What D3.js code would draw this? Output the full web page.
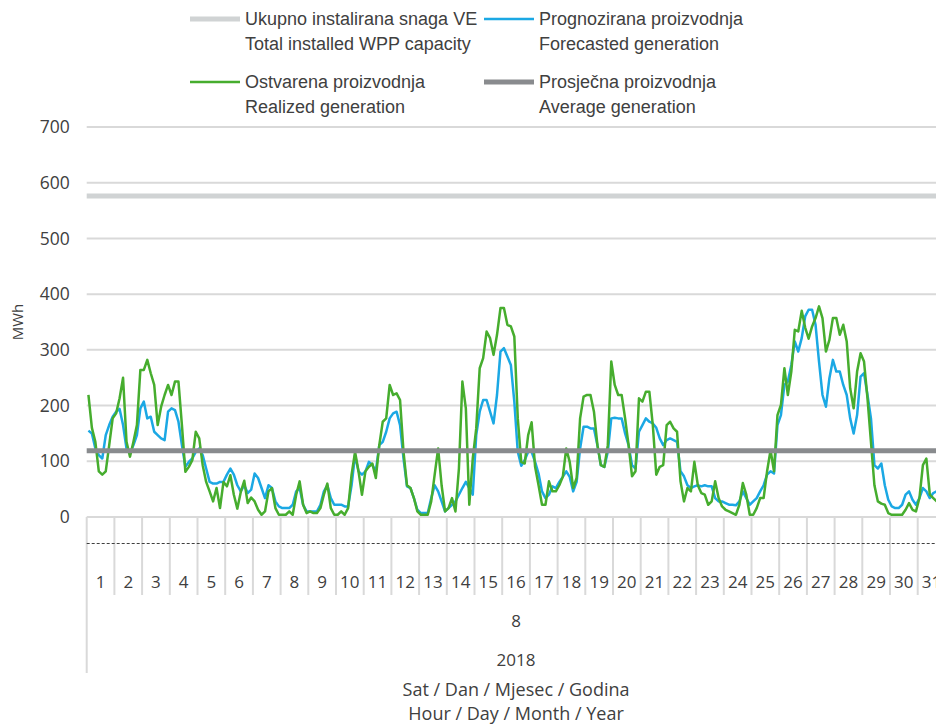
<html>
<head>
<meta charset="utf-8">
<title>VE proizvodnja - kolovoz 2018</title>
<style>
    body { margin: 0; background: #fff; }
    text { fill: #404040; font-family: "Open Sans", "Noto Sans", sans-serif; }
    .legend text { font-family: "Liberation Sans", sans-serif; font-size: 18px; }
    .grid line { stroke: #d9d9d9; stroke-width: 2; }
    .yaxis text { font-size: 17.5px; }
    .days text { font-size: 17px; }
</style>
</head>
<body>
<div id="chart"></div>
<script src="https://cdnjs.cloudflare.com/ajax/libs/d3/7.8.5/d3.min.js"></script>
<script>
    // one value every 3 hours (8 per day), August 2018, MWh
    var realized = [
        219, 160, 135, 82, 76, 82, 129, 177,
        186, 213, 250, 135, 108, 135, 165, 264,
        264, 282, 258, 237, 165, 198, 219, 237,
        219, 243, 243, 165, 81, 90, 102, 153,
        141, 93, 63, 46, 28, 52, 16, 63,
        55, 75, 40, 15, 45, 65, 25, 35,
        28, 13, 4, 10, 46, 52, 16, 4,
        4, 4, 10, 4, 40, 64, 22, 7,
        10, 7, 7, 16, 40, 60, 16, 4,
        4, 10, 4, 16, 76, 117, 82, 40,
        82, 90, 96, 70, 129, 171, 177, 237,
        219, 222, 210, 117, 57, 52, 34, 10,
        4, 4, 4, 28, 76, 123, 57, 10,
        16, 34, 10, 87, 243, 195, 22, 105,
        159, 267, 285, 333, 321, 291, 327, 375,
        375, 345, 342, 324, 177, 99, 96, 147,
        170, 90, 57, 22, 22, 64, 46, 46,
        57, 72, 123, 99, 52, 70, 177, 216,
        219, 219, 189, 129, 93, 90, 129, 279,
        237, 219, 219, 177, 129, 73, 82, 213,
        207, 225, 225, 165, 76, 90, 93, 165,
        171, 159, 153, 64, 28, 52, 46, 99,
        57, 43, 40, 22, 28, 64, 34, 19,
        13, 10, 7, 4, 22, 61, 40, 4,
        4, 16, 34, 34, 82, 120, 82, 183,
        201, 267, 219, 261, 336, 333, 370, 340,
        320, 342, 357, 378, 357, 297, 318, 357,
        357, 327, 345, 315, 231, 195, 261, 294,
        279, 213, 135, 57, 28, 24, 22, 7,
        4, 4, 4, 4, 13, 25, 13, 10,
        34, 93, 105, 40, 34, 28, 22, 22
    ];

    var forecast = [
        155, 150, 123, 111, 105, 147, 165, 180,
        189, 194, 165, 123, 114, 129, 147, 195,
        207, 177, 180, 153, 147, 141, 138, 189,
        195, 192, 171, 129, 90, 99, 105, 117,
        123, 111, 87, 63, 60, 60, 63, 63,
        76, 87, 76, 57, 46, 57, 43, 49,
        78, 70, 52, 34, 57, 52, 28, 19,
        16, 16, 16, 22, 46, 52, 22, 10,
        10, 10, 10, 22, 46, 57, 34, 22,
        22, 22, 19, 19, 57, 111, 82, 76,
        82, 99, 93, 82, 129, 135, 153, 177,
        186, 189, 165, 105, 55, 52, 34, 13,
        7, 7, 7, 34, 57, 46, 28, 10,
        16, 22, 28, 40, 52, 63, 52, 40,
        147, 189, 210, 210, 189, 168, 219, 297,
        303, 288, 273, 207, 117, 92, 102, 117,
        117, 99, 78, 46, 34, 40, 55, 52,
        63, 72, 82, 72, 46, 63, 123, 162,
        162, 159, 159, 129, 93, 90, 117, 177,
        178, 177, 177, 150, 129, 93, 87, 153,
        165, 177, 171, 168, 160, 141, 129, 138,
        141, 138, 135, 82, 73, 57, 52, 55,
        57, 55, 57, 55, 55, 34, 28, 28,
        25, 22, 22, 21, 28, 46, 34, 22,
        28, 34, 46, 57, 76, 82, 78, 165,
        183, 237, 243, 273, 315, 297, 321, 360,
        372, 372, 345, 279, 219, 198, 249, 282,
        261, 261, 237, 219, 177, 150, 183, 252,
        258, 219, 177, 93, 87, 96, 57, 31,
        19, 16, 16, 22, 40, 46, 31, 22,
        34, 52, 46, 34, 43, 46, 40, 40
    ];

    var capacity = 576;   // installed WPP capacity
    var average = 119;    // average generation

    var days = d3.range(1, 32);
    var yTicks = [0, 100, 200, 300, 400, 500, 600, 700];
    var month = '8', year = '2018';

    var legendItems = [
        {top: 'Ukupno instalirana snaga VE', bottom: 'Total installed WPP capacity', color: '#d0d3d4', width: 5},
        {top: 'Prognozirana proizvodnja', bottom: 'Forecasted generation', color: '#1ba8e4', width: 2.5},
        {top: 'Ostvarena proizvodnja', bottom: 'Realized generation', color: '#46ad2e', width: 2.5},
        {top: 'Prosječna proizvodnja', bottom: 'Average generation', color: '#898b8e', width: 5}
    ];

    var W = 936, H = 726;
    var left = 86.7, right = 945.4;   // the plot runs past the right edge of the picture
    var stepH = 3;

    var svg = d3.select('#chart').append('svg')
            .attr('width', W)
            .attr('height', H);

    var x = d3.scaleLinear().domain([0, days.length * 24]).range([left, right]);
    var y = d3.scaleLinear().domain([0, 700]).range([517, 127]);

    // grid
    svg.append('g').attr('class', 'grid')
            .selectAll('line')
            .data(yTicks)
            .enter().append('line')
            .attr('x1', left).attr('x2', W)
            .attr('y1', function (d) { return y(d); })
            .attr('y2', function (d) { return y(d); });

    // y axis labels
    var yAxis = d3.axisLeft(y).tickValues(yTicks).tickSize(0).tickPadding(17);
    var gy = svg.append('g').attr('class', 'yaxis')
            .attr('transform', 'translate(' + left + ',0)')
            .call(yAxis);
    gy.select('.domain').remove();
    gy.selectAll('text').attr('fill', '#404040').style('font-family', '"Open Sans", sans-serif');

    svg.append('text')
            .attr('transform', 'translate(23,' + y(350) + ') rotate(-90)')
            .attr('text-anchor', 'middle')
            .style('font-size', '15px')
            .text('MWh');

    // day separators under the axis
    svg.append('g').attr('class', 'grid')
            .selectAll('line')
            .data(d3.range(days.length + 1))
            .enter().append('line')
            .attr('x1', function (d) { return x(d * 24); })
            .attr('x2', function (d) { return x(d * 24); })
            .attr('y1', y(0))
            .attr('y2', function (d) { return d === 0 ? 673 : 595; });

    svg.append('line')
            .attr('x1', left).attr('x2', W)
            .attr('y1', 543.5).attr('y2', 543.5)
            .attr('stroke', '#404040')
            .attr('stroke-width', 1)
            .attr('stroke-dasharray', '3,2');

    svg.append('g').attr('class', 'days')
            .selectAll('text')
            .data(days)
            .enter().append('text')
            .attr('x', function (d) { return x((d - 0.5) * 24); })
            .attr('y', 588)
            .attr('text-anchor', 'middle')
            .text(function (d) { return d; });

    var midX = (left + right) / 2;
    svg.append('text').attr('x', midX).attr('y', 627).attr('text-anchor', 'middle')
            .style('font-size', '17px').text(month);
    svg.append('text').attr('x', midX).attr('y', 666).attr('text-anchor', 'middle')
            .style('font-size', '17px').text(year);
    svg.append('text').attr('x', midX).attr('y', 696).attr('text-anchor', 'middle')
            .style('font-size', '18px').text('Sat / Dan / Mjesec / Godina');
    svg.append('text').attr('x', midX).attr('y', 720).attr('text-anchor', 'middle')
            .style('font-size', '18px').text('Hour / Day / Month / Year');

    // series
    var plot = svg.append('g');
    plot.append('line')
            .attr('x1', left).attr('x2', W)
            .attr('y1', y(capacity)).attr('y2', y(capacity))
            .attr('stroke', legendItems[0].color).attr('stroke-width', 5);

    var line = d3.line()
            .x(function (d, i) { return x(i * stepH + 1.5); })
            .y(function (d) { return y(d); });

    plot.append('path').datum(forecast)
            .attr('d', line)
            .attr('fill', 'none')
            .attr('stroke', legendItems[1].color)
            .attr('stroke-width', 2.5)
            .attr('stroke-linejoin', 'round');

    plot.append('path').datum(realized)
            .attr('d', line)
            .attr('fill', 'none')
            .attr('stroke', legendItems[2].color)
            .attr('stroke-width', 2.5)
            .attr('stroke-linejoin', 'round');

    plot.append('line')
            .attr('x1', left).attr('x2', W)
            .attr('y1', y(average)).attr('y2', y(average))
            .attr('stroke', legendItems[3].color).attr('stroke-width', 5);

    // legend, 2 x 2
    var legendPos = [[190, 19], [484, 19], [190, 82], [484, 82]];
    var lg = svg.append('g').attr('class', 'legend')
            .selectAll('g')
            .data(legendItems)
            .enter().append('g')
            .attr('transform', function (d, i) {
                return 'translate(' + legendPos[i][0] + ',' + legendPos[i][1] + ')';
            });
    lg.append('line')
            .attr('x1', 0).attr('x2', 50)
            .attr('stroke', function (d) { return d.color; })
            .attr('stroke-width', function (d) { return d.width; });
    lg.append('text')
            .attr('x', 55).attr('y', 6)
            .text(function (d) { return d.top; });
    lg.append('text')
            .attr('x', 55).attr('y', 31)
            .text(function (d) { return d.bottom; });
</script>
</body>
</html>
